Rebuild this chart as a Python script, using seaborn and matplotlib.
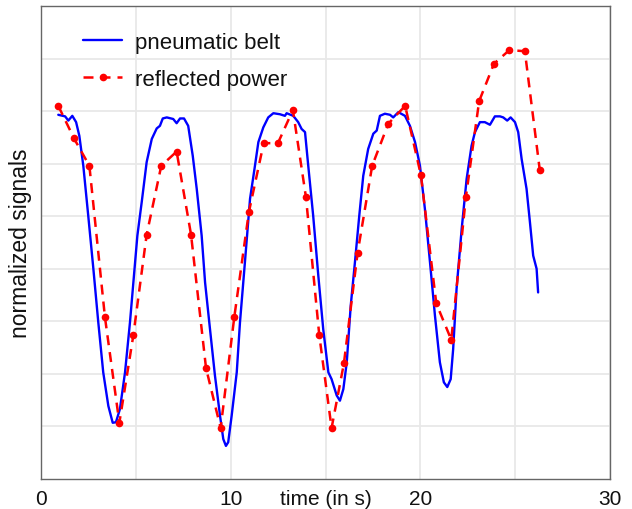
import matplotlib
matplotlib.use("Agg")
import matplotlib.pyplot as plt
import seaborn as sns
import pandas as pd

# pneumatic belt (dense trace)
belt_t = [0.91, 1.27, 1.44, 1.65, 1.85, 2.02, 2.23, 2.49, 2.76, 3.02, 3.28, 3.55, 3.78, 3.95,
          4.16, 4.43, 4.69, 4.90, 5.08, 5.31, 5.57, 5.84, 6.10, 6.27, 6.42, 6.63, 6.97, 7.15,
          7.33, 7.54, 7.76, 8.00, 8.21, 8.47, 8.65, 8.91, 9.17, 9.44, 9.61, 9.75, 9.87, 10.05,
          10.32, 10.49, 10.75, 11.02, 11.28, 11.46, 11.72, 11.98, 12.25, 12.60, 12.86, 12.95,
          13.30, 13.56, 13.74, 13.92, 14.09, 14.35, 14.62, 14.88, 15.15, 15.32, 15.59, 15.76,
          15.94, 16.12, 16.33, 16.55, 16.78, 16.99, 17.25, 17.52, 17.70, 17.87, 18.13, 18.40,
          18.57, 18.84, 19.19, 19.45, 19.72, 19.98, 20.24, 20.51, 20.77, 21.03, 21.24, 21.42,
          21.60, 21.73, 21.91, 22.18, 22.44, 22.70, 22.88, 23.14, 23.40, 23.67, 23.93, 24.20,
          24.37, 24.58, 24.76, 24.99, 25.16, 25.34, 25.60, 25.78, 25.95, 26.13, 26.21]
belt_v = [6.93, 6.90, 6.82, 6.91, 6.79, 6.53, 5.96, 5.01, 4.00, 2.98, 2.03, 1.39, 1.07, 1.08,
          1.33, 2.03, 2.98, 3.87, 4.63, 5.27, 6.03, 6.47, 6.67, 6.72, 6.86, 6.88, 6.85, 6.77,
          6.86, 6.86, 6.72, 6.15, 5.52, 4.63, 3.74, 2.85, 1.97, 1.20, 0.76, 0.63, 0.70, 1.20,
          2.03, 2.98, 4.12, 5.33, 5.96, 6.41, 6.69, 6.88, 6.96, 6.94, 6.91, 6.96,
          6.91, 6.79, 6.66, 6.60, 5.96, 5.01, 3.87, 2.85, 2.03, 1.90, 1.59, 1.49,
          1.71, 2.22, 3.30, 4.12, 5.01, 5.77, 6.28, 6.57, 6.63, 6.91, 6.95, 6.93,
          6.88, 6.98, 6.91, 6.72, 6.41, 5.96, 5.14, 4.12, 3.11, 2.22, 1.84, 1.75,
          1.90, 2.47, 3.62, 4.76, 5.71, 6.34, 6.60, 6.79, 6.79, 6.74, 6.90, 6.90,
          6.88, 6.82, 6.88, 6.79, 6.60, 6.09, 5.52, 4.88, 4.25, 4.00, 3.55]

# reflected power (sampled)
power_t = [0.91, 1.74, 2.55, 3.37, 4.13, 4.87, 5.57, 6.34, 7.15, 7.91, 8.70, 9.47, 10.19,
           10.96, 11.74, 12.49, 13.28, 13.97, 14.67, 15.32, 15.97, 16.69, 17.46, 18.31, 19.20,
           20.03, 20.84, 21.63, 22.40, 23.10, 23.88, 24.69, 25.51, 26.30]
power_v = [7.10, 6.48, 5.96, 3.08, 1.07, 2.74, 4.65, 5.96, 6.23, 4.65, 2.11, 0.97, 3.08,
           5.08, 6.39, 6.39, 7.02, 5.36, 2.74, 0.97, 2.20, 4.30, 5.96, 6.76, 7.10,
           5.78, 3.34, 2.65, 5.36, 7.19, 7.90, 8.16, 8.14, 5.87]

xticks = [0, 5, 10, 15, 20, 25, 30]
xtick_labels = ["0", "", "10", "time (in s)", "20", "", "30"]

sns.set_style("whitegrid")
plt.rcParams["font.family"] = ["Liberation Sans", "DejaVu Sans"]
plt.rcParams["text.color"] = "#111111"
plt.rcParams["xtick.labelcolor"] = "#111111"
plt.rcParams["axes.labelcolor"] = "#111111"

fig = plt.figure(figsize=(6.32, 5.1), dpi=100)
ax = fig.add_axes([0.0649, 0.0588, 0.9003, 0.9275])

belt = pd.DataFrame({"t": belt_t, "v": belt_v})
power = pd.DataFrame({"t": power_t, "v": power_v})

sns.lineplot(data=belt, x="t", y="v", ax=ax, color="#0000ff", linewidth=1.7,
             label="pneumatic belt")
sns.lineplot(data=power, x="t", y="v", ax=ax, color="#ff0000", linewidth=1.8,
             linestyle=(0, (4, 2.8)), marker="o", markersize=5.5, markeredgewidth=0,
             label="reflected power")

ax.set_xlim(0, 30)
ax.set_ylim(0, 9)
ax.set_xticks(xticks)
ax.set_xticklabels(xtick_labels, fontsize=15)
ax.set_yticks(range(1, 9))
ax.set_yticklabels([])
ax.set_xlabel("")
ax.set_ylabel("normalized signals", fontsize=16.5, labelpad=3)

ax.grid(True, color="#e8e8e8", linewidth=1.3)
ax.tick_params(axis="x", direction="in", length=5, width=1, color="#666666", pad=7)
ax.tick_params(axis="y", length=0)
for s in ax.spines.values():
    s.set_color("#666666")
    s.set_linewidth(1.0)
    s.set_visible(True)

ax.legend(loc="upper left", bbox_to_anchor=(0.074, 0.946), frameon=False, fontsize=16,
          handlelength=1.75, handletextpad=0.6, labelspacing=0.72, borderpad=0,
          borderaxespad=0)

fig.savefig("out.png", dpi=100)
